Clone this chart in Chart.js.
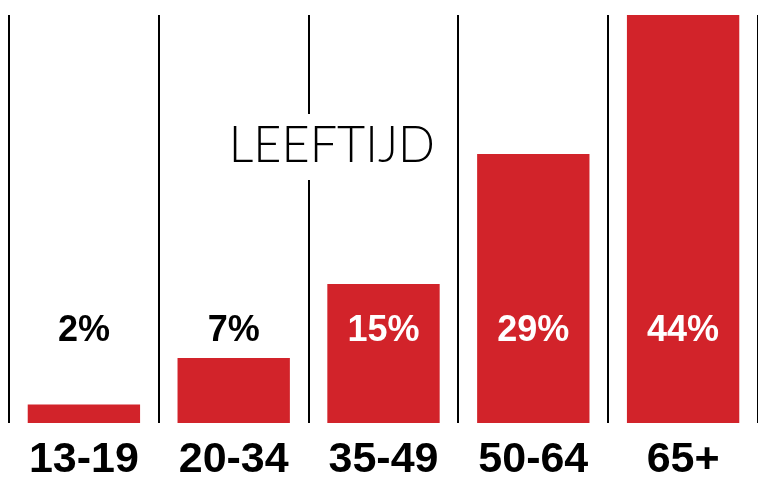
<!DOCTYPE html>
<html>
<head>
<meta charset="utf-8">
<script src="https://cdn.jsdelivr.net/npm/chart.js@4"></script>
<style>
  html, body { margin: 0; padding: 0; background: #fff; }
  #wrap { width: 758px; height: 478px; }
</style>
</head>
<body>
<div id="wrap"><canvas id="leeftijd"></canvas></div>
<script>
const categories = ["13-19", "20-34", "35-49", "50-64", "65+"];
const percentages = [2, 7, 15, 29, 44];
const valueLabels = ["2%", "7%", "15%", "29%", "44%"];
const chartTitle = "LEEFTIJD";

const red = "#d2232a";

// percentages sit on one common line, white when the bar is behind them
const labelPlugin = {
  id: "labels",
  afterDatasetsDraw(chart) {
    const { ctx, scales } = chart;
    const meta = chart.getDatasetMeta(0);
    const y = scales.y.getPixelForValue(10);
    ctx.save();
    ctx.font = "bold 36px 'Liberation Sans', Arial, sans-serif";
    ctx.textAlign = "center";
    ctx.textBaseline = "middle";
    meta.data.forEach((bar, i) => {
      ctx.fillStyle = percentages[i] > 10 ? "#fff" : "#000";
      ctx.fillText(valueLabels[i], bar.x, y + 1);
    });
    ctx.restore();
  }
};

// title in the middle of the plot, knocking out the grid line behind it
const titlePlugin = {
  id: "midTitle",
  afterDatasetsDraw(chart) {
    const { ctx, chartArea } = chart;
    const x = chartArea.left + chartArea.width * 0.431;
    const y = chartArea.top + 130;
    ctx.save();
    ctx.font = "300 52px Lato, 'Open Sans', sans-serif";
    const w = ctx.measureText(chartTitle).width * 0.935;
    ctx.fillStyle = "#fff";
    ctx.fillRect(x - w / 2 - 4, y - 31, w + 8, 66);
    ctx.translate(x, y);
    ctx.scale(0.935, 1);
    ctx.fillStyle = "#000";
    ctx.textAlign = "center";
    ctx.textBaseline = "middle";
    ctx.fillText(chartTitle, 0, 0);
    ctx.restore();
  }
};

new Chart(document.getElementById("leeftijd"), {
  type: "bar",
  data: {
    labels: categories,
    datasets: [{
      data: percentages,
      backgroundColor: red,
      borderWidth: 0,
      barPercentage: 1,
      categoryPercentage: 0.75
    }]
  },
  options: {
    responsive: true,
    maintainAspectRatio: false,
    animation: false,
    layout: { padding: { left: 9, right: 0, top: 15, bottom: -19 } },
    plugins: {
      legend: { display: false },
      tooltip: { enabled: false }
    },
    scales: {
      y: { display: false, min: 0, max: 44 },
      x: {
        border: { display: false },
        grid: {
          offset: true,
          color: "#000",
          lineWidth: 2,
          drawTicks: false
        },
        ticks: {
          color: "#000",
          padding: 20,
          font: { family: "'Liberation Sans', Arial, sans-serif", weight: "bold", size: 43, lineHeight: 0.79 }
        }
      }
    }
  },
  plugins: [labelPlugin, titlePlugin]
});
</script>
</body>
</html>
